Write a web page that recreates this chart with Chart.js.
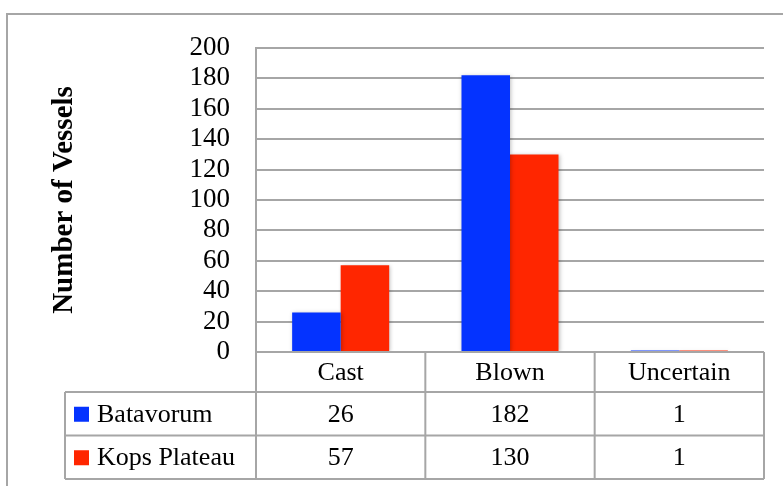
<!DOCTYPE html>
<html>
<head>
<meta charset="utf-8">
<script src="https://cdn.jsdelivr.net/npm/chart.js@4/dist/chart.umd.min.js"></script>
<style>
  body { margin: 0; background: #fff; }
  #frame { position: absolute; left: 6px; top: 13px; width: 820px; height: 520px; border: 2px solid #a6a6a6; }
  #wrap { position: absolute; left: 0; top: 0; width: 783px; height: 486px; }
</style>
</head>
<body>
<div id="frame"></div>
<div id="wrap"><canvas id="vesselChart"></canvas></div>
<script>
const categories = ['Cast', 'Blown', 'Uncertain'];
const seriesNames = ['Batavorum', 'Kops Plateau'];
const batavorum = [26, 182, 1];
const kopsPlateau = [57, 130, 1];
const seriesColors = ['#0433ff', '#ff2600'];

const FONT = "'Liberation Serif', 'Times New Roman', serif";
const LINE = '#a6a6a6';

// shadow under the bars
const barShadow = {
  id: 'barShadow',
  beforeDatasetsDraw(chart) {
    const ctx = chart.ctx;
    ctx.save();
    ctx.shadowColor = 'rgba(0,0,0,0.25)';
    ctx.shadowBlur = 4;
    ctx.shadowOffsetX = 1;
    ctx.shadowOffsetY = 1;
  },
  afterDatasetsDraw(chart) {
    chart.ctx.restore();
  }
};

// data table under the plot
const dataTable = {
  id: 'dataTable',
  afterDraw(chart) {
    const ctx = chart.ctx;
    const area = chart.chartArea;
    const x = chart.scales.x;
    const n = categories.length;
    const cw = (area.right - area.left) / n;
    const headTop = area.bottom;
    const headBottom = headTop + 40;
    const rowH = 43.5;
    const legendLeft = 65;
    const tableBottom = headBottom + rowH * seriesNames.length;

    ctx.save();
    ctx.strokeStyle = LINE;
    ctx.lineWidth = 2;
    ctx.beginPath();
    // header top
    ctx.moveTo(area.left, headTop); ctx.lineTo(area.right, headTop);
    // row lines
    for (let r = 0; r <= seriesNames.length; r++) {
      const y = headBottom + r * rowH;
      ctx.moveTo(legendLeft, y); ctx.lineTo(area.right, y);
    }
    // column lines
    for (let c = 0; c <= n; c++) {
      const cx = area.left + c * cw;
      ctx.moveTo(cx, headTop); ctx.lineTo(cx, tableBottom);
    }
    ctx.moveTo(legendLeft, headBottom); ctx.lineTo(legendLeft, tableBottom);
    ctx.stroke();

    ctx.fillStyle = '#000';
    ctx.font = '26px ' + FONT;
    ctx.textBaseline = 'middle';
    ctx.textAlign = 'center';
    categories.forEach((c, i) => {
      ctx.fillText(c, x.getPixelForValue(i), (headTop + headBottom) / 2 + 1);
    });

    chart.data.datasets.forEach((ds, r) => {
      const cy = headBottom + r * rowH + rowH / 2;
      ctx.fillStyle = ds.backgroundColor;
      ctx.fillRect(legendLeft + 9, cy - 7, 15, 15);
      ctx.fillStyle = '#000';
      ctx.textAlign = 'left';
      ctx.fillText(ds.label, legendLeft + 32, cy + 1);
      ctx.textAlign = 'center';
      ds.data.forEach((v, i) => {
        ctx.fillText(String(v), x.getPixelForValue(i), cy + 1);
      });
    });
    ctx.restore();
  }
};

new Chart(document.getElementById('vesselChart'), {
  type: 'bar',
  data: {
    labels: categories,
    datasets: [
      { label: seriesNames[0], data: batavorum, backgroundColor: seriesColors[0] },
      { label: seriesNames[1], data: kopsPlateau, backgroundColor: seriesColors[1] }
    ]
  },
  options: {
    responsive: true,
    maintainAspectRatio: false,
    animation: false,
    layout: { padding: { top: 48, right: 19, bottom: 134, left: 0 } },
    plugins: { legend: { display: false }, tooltip: { enabled: false } },
    datasets: { bar: { categoryPercentage: 0.573, barPercentage: 1 } },
    scales: {
      x: { display: false },
      y: {
        min: 0,
        max: 200,
        ticks: { stepSize: 20, autoSkip: false, padding: 26, color: '#000', font: { family: FONT, size: 27 } },
        grid: { color: LINE, lineWidth: 2, drawTicks: false },
        border: { color: LINE, width: 2 },
        title: {
          display: true,
          text: 'Number of Vessels',
          color: '#000',
          font: { family: FONT, size: 29, weight: 'bold' },
          padding: { top: 47, bottom: 0 }
        },
        afterFit(scale) { scale.width = 256; }
      }
    }
  },
  plugins: [barShadow, dataTable]
});
</script>
</body>
</html>
